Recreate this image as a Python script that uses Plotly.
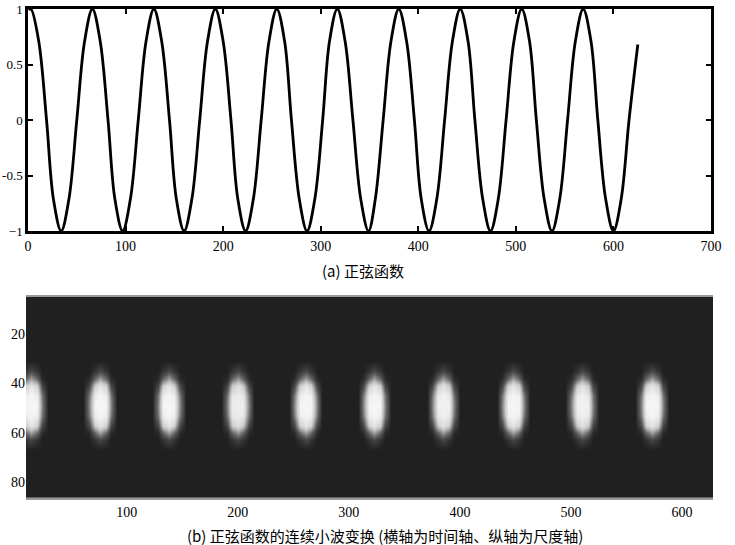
import numpy as np
import plotly.graph_objects as go

# ---------- (a) sine function: points ----------
sig_x = [1, 3, 11, 19, 26, 34, 42, 50, 58, 66, 74, 82, 89, 97, 105, 113, 121, 129,
         137, 145, 152, 160, 168, 176, 184, 192, 200, 208, 215, 223, 231, 239, 247,
         255, 263, 270, 278, 286, 294, 302, 309, 317, 325, 333, 341, 349, 356, 364,
         372, 380, 388, 396, 403, 411, 419, 427, 435, 443, 451, 458, 466, 474, 482,
         490, 498, 506, 514, 521, 529, 537, 545, 553, 561, 569, 577, 584, 592, 600,
         608, 616, 625]
sig_y = [0.99, 1, 0.71, 0, -0.71, -1, -0.71, 0, 0.71, 1, 0.71, 0, -0.71, -1, -0.71, 0,
         0.71, 1, 0.71, 0, -0.71, -1, -0.71, 0, 0.71, 1, 0.71, 0, -0.71, -1, -0.71, 0,
         0.71, 1, 0.71, 0, -0.71, -1, -0.71, 0, 0.71, 1, 0.71, 0, -0.71, -1, -0.71, 0,
         0.71, 1, 0.71, 0, -0.71, -1, -0.71, 0, 0.71, 1, 0.71, 0, -0.71, -1, -0.71, 0,
         0.71, 1, 0.71, 0, -0.71, -1, -0.71, 0, 0.71, 1, 0.71, 0, -0.71, -1, -0.71, 0,
         0.68]
top_xticks = [0, 100, 200, 300, 400, 500, 600, 700]
top_yticks = [-1, -0.5, 0, 0.5, 1]
top_yticklabels = ["\u22121", "-0.5", "0", "0.5", "1"]

# ---------- (b) continuous wavelet transform ----------
blob_x = [14, 76, 138, 200, 261, 323, 385, 448, 510, 573]
blob_amp = [1.0, 1.0, 1.0, 0.95, 1.0, 1.0, 0.97, 1.0, 0.97, 1.0]
blob_offsets = [-15, -10, -5, 0, 5, 10, 15]
blob_scales = [31, 35, 38, 41, 45, 49, 53, 57, 60, 63, 67]
blob_shape = [
    [0, 0.00, 0.00, 0.00, 0.00, 0.00, 0],
    [0, 0.00, 0.10, 0.20, 0.10, 0.00, 0],
    [0, 0.05, 0.35, 0.55, 0.35, 0.05, 0],
    [0, 0.20, 0.75, 0.90, 0.75, 0.20, 0],
    [0, 0.40, 0.95, 1.00, 0.95, 0.40, 0],
    [0, 0.45, 1.00, 1.00, 1.00, 0.45, 0],
    [0, 0.40, 0.95, 1.00, 0.95, 0.40, 0],
    [0, 0.20, 0.75, 0.90, 0.75, 0.20, 0],
    [0, 0.05, 0.35, 0.55, 0.35, 0.05, 0],
    [0, 0.00, 0.10, 0.20, 0.10, 0.00, 0],
    [0, 0.00, 0.00, 0.00, 0.00, 0.00, 0],
]
bot_xticks = [100, 200, 300, 400, 500, 600]
bot_yticks = [20, 40, 60, 80]

# build heatmap table from the arrays above
shape = np.array(blob_shape)
hx = [0.0]
cols = [np.zeros(len(blob_scales))]
for cx, a in zip(blob_x, blob_amp):
    for j, off in enumerate(blob_offsets):
        hx.append(cx + off)
        cols.append(a * shape[:, j])
hx.append(630.0)
cols.append(np.zeros(len(blob_scales)))
core = np.column_stack(cols)
hy = [0] + blob_scales + [92]
hz = np.vstack([np.zeros(len(hx)), core, np.zeros(len(hx))])

fig = go.Figure()
fig.add_trace(go.Scatter(x=sig_x, y=sig_y, mode="lines",
                         line=dict(color="black", width=2.8, shape="spline", smoothing=1.0),
                         xaxis="x", yaxis="y", showlegend=False, hoverinfo="skip"))
fig.add_trace(go.Heatmap(x=hx, y=hy, z=hz, zsmooth="best", zmin=0, zmax=1,
                         colorscale=[[0, "rgb(32,32,32)"], [0.3, "rgb(90,90,90)"],
                                     [0.7, "rgb(200,200,200)"], [1, "rgb(245,245,245)"]],
                         showscale=False, xaxis="x2", yaxis="y2", hoverinfo="skip"))

tickfont = dict(family="Liberation Serif", size=14, color="black")
W, H = 735, 545
fig.update_layout(
    width=W, height=H, template="none",
    paper_bgcolor="white", plot_bgcolor="white",
    margin=dict(l=0, r=0, t=0, b=0),
    showlegend=False,
    xaxis=dict(domain=[28 / W, 711 / W], range=[0, 700], tickvals=top_xticks,
               ticks="inside", ticklen=5, tickwidth=1.5, tickcolor="black",
               showline=True, linecolor="black", linewidth=2.5, mirror="ticks",
               showgrid=False, zeroline=False, tickfont=tickfont, anchor="y",
               automargin=False),
    yaxis=dict(domain=[1 - 231 / H, 1 - 9 / H], range=[-1, 1], tickvals=top_yticks,
               ticktext=top_yticklabels,
               ticks="inside", ticklen=5, tickwidth=1.5, tickcolor="black",
               showline=True, linecolor="black", linewidth=2.5, mirror="ticks",
               showgrid=False, zeroline=False,
               tickfont=dict(family="Liberation Serif", size=13, color="black"),
               anchor="x", ticklabelstandoff=0, automargin=False),
    xaxis2=dict(domain=[26 / W, 713 / W], range=[9.3, 627.9], tickvals=bot_xticks,
                ticks="", showline=True, linecolor="#9a9a9a", linewidth=2, mirror=True,
                showgrid=False, zeroline=False, tickfont=tickfont, anchor="y2",
                automargin=False),
    yaxis2=dict(domain=[1 - 498 / H, 1 - 296.7 / H], range=[86.5, 4.9], tickvals=bot_yticks,
                ticks="", showline=False, showgrid=False, zeroline=False,
                tickfont=tickfont, anchor="x2", automargin=False),
    annotations=[
        dict(text="(a) 正弦函数", x=363 / W, y=1 - 270.5 / H, xref="paper", yref="paper",
             showarrow=False, xanchor="center", yanchor="middle",
             font=dict(family="Noto Sans CJK SC", size=15, color="black")),
        dict(text="(b) 正弦函数的连续小波变换 (横轴为时间轴、纵轴为尺度轴)", x=385 / W, y=1 - 535 / H,
             xref="paper", yref="paper", showarrow=False, xanchor="center", yanchor="middle",
             font=dict(family="Noto Sans CJK SC", size=15, color="black")),
    ],
)

fig.write_html("out.html")
